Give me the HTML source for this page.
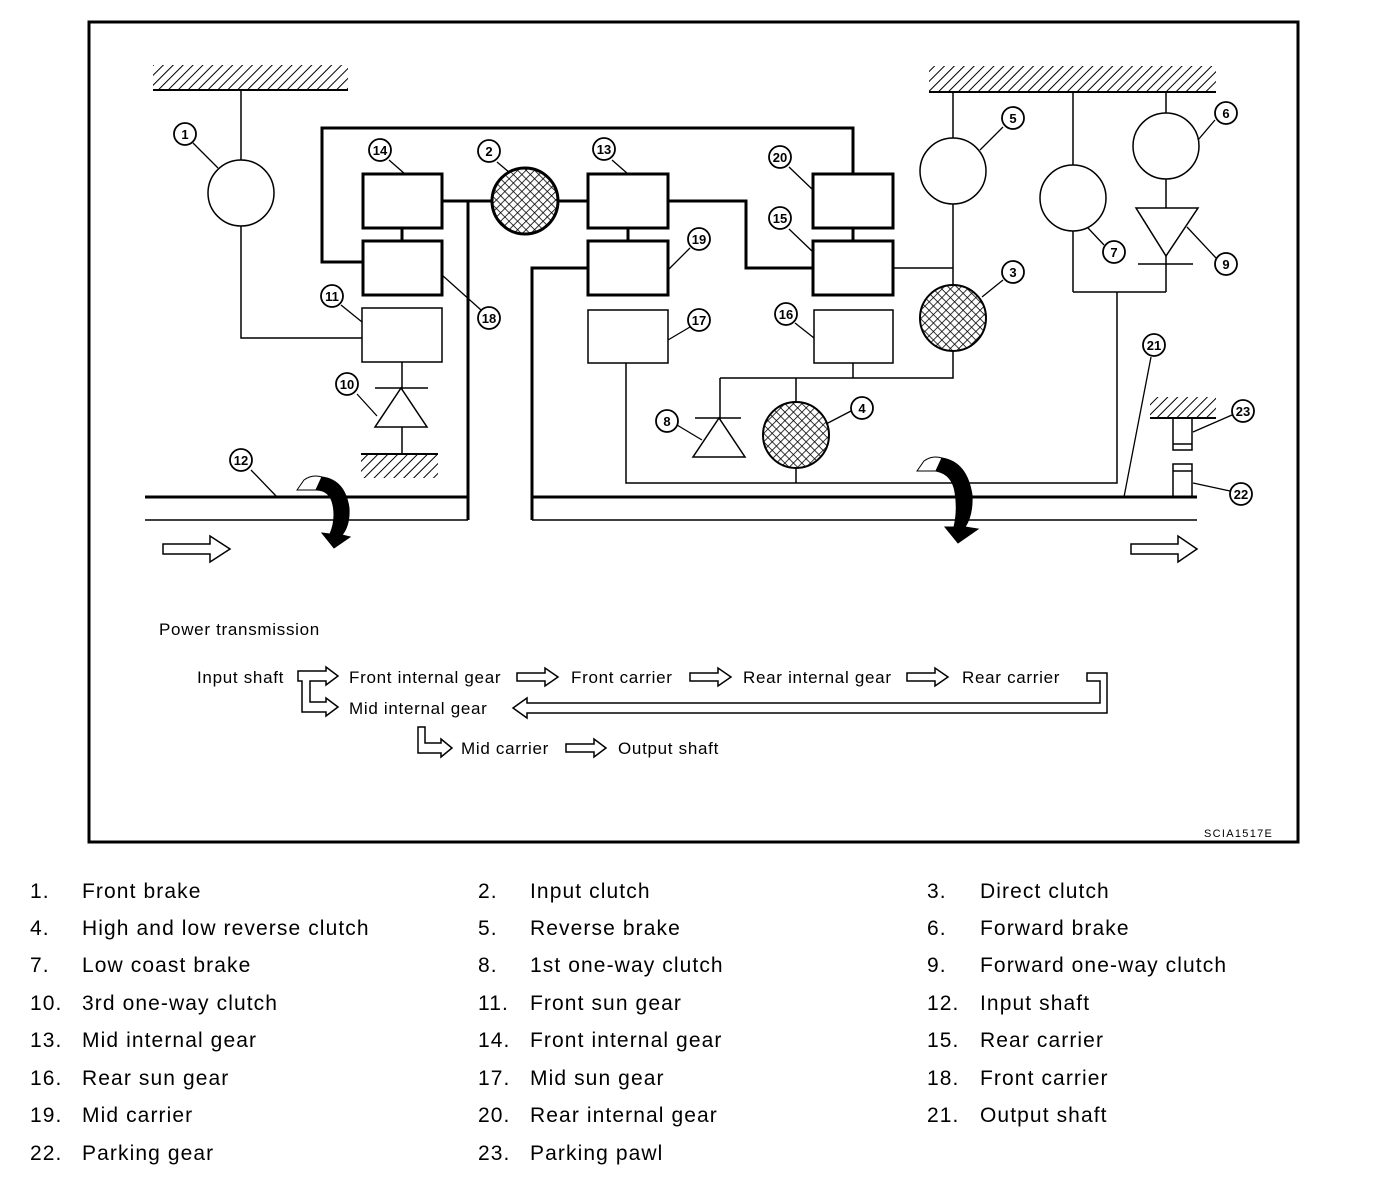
<!DOCTYPE html>
<html><head><meta charset="utf-8"><style>
body{margin:0;background:#fff;}
svg{display:block;}
text{font-family:"Liberation Sans",sans-serif;}
.lg{font-size:21px;fill:#000;letter-spacing:1.1px;}
.pt{font-size:17px;letter-spacing:0.7px;}
.n{font-size:13px;font-weight:bold;text-anchor:middle;}
</style></head><body>
<svg width="1376" height="1180" viewBox="0 0 1376 1180" xmlns="http://www.w3.org/2000/svg">
<defs>
<pattern id="h" width="7" height="7" patternUnits="userSpaceOnUse" patternTransform="rotate(45)"><rect width="7" height="7" fill="#fff"/><line x1="0" y1="0" x2="0" y2="7" stroke="#000" stroke-width="2"/></pattern>
<pattern id="x" width="6" height="6" patternUnits="userSpaceOnUse" patternTransform="rotate(45)"><rect width="6" height="6" fill="#fff"/><path d="M0 0V6M0 0H6" stroke="#000" stroke-width="1.6"/></pattern>
</defs>
<rect x="89" y="22" width="1209" height="820" fill="none" stroke="#000" stroke-width="3"/>
<rect x="153" y="65" width="195" height="24" fill="url(#h)"/><line x1="153" y1="90" x2="348" y2="90" stroke="#000" stroke-width="2"/>
<rect x="929" y="66" width="287" height="25" fill="url(#h)"/><line x1="929" y1="92" x2="1216" y2="92" stroke="#000" stroke-width="2"/>
<rect x="361" y="454" width="77" height="24" fill="url(#h)"/><line x1="361" y1="454" x2="438" y2="454" stroke="#000" stroke-width="2"/>
<rect x="1150" y="397" width="66" height="21" fill="url(#h)"/><line x1="1150" y1="418" x2="1216" y2="418" stroke="#000" stroke-width="2"/>
<g fill="none" stroke="#000">
<g stroke-width="1.5">
<path d="M241 90V160M241 226V338H362"/>
<path d="M402 362V453M375 388H428"/>
<polygon points="401,388 375,427 427,427" fill="#fff"/>
<path d="M893 268H953M953 92V138M953 204V285M953 351V378H720M853 363V378M796 378V402M796 468V483M720 378V457M695 418H741"/>
<polygon points="719,418 693,457 745,457" fill="#fff"/>
<path d="M626 363V483H1117V292M1073 292H1166M1073 92V165M1073 231V292M1166 92V113M1166 179V292M1138 264H1193"/>
<polygon points="1136,208 1198,208 1166,256" fill="#fff"/>
<path d="M145 520H468M532 520H1197"/>
<rect x="1173" y="418" width="19" height="32"/><path d="M1173 444H1192"/>
<rect x="1173" y="464" width="19" height="33"/><path d="M1173 471H1192"/>
<rect x="362" y="308" width="80" height="54"/>
<rect x="588" y="310" width="80" height="53"/>
<rect x="814" y="310" width="79" height="53"/>
</g>
<g stroke-width="3">
<path d="M363 262H322V128H853V174"/>
<rect x="363" y="174" width="79" height="54"/><rect x="363" y="241" width="79" height="54"/><path d="M402 228V241"/>
<path d="M442 201H492M468 201V520M145 497H468"/>
<path d="M558 201H588"/>
<rect x="588" y="174" width="80" height="54"/><rect x="588" y="241" width="80" height="54"/><path d="M628 228V241"/>
<path d="M668 201H746V268H813"/>
<rect x="813" y="174" width="80" height="54"/><rect x="813" y="241" width="80" height="54"/><path d="M853 228V241"/>
<path d="M588 268H532V520M532 497H1197"/>
</g>
<g stroke-width="1.5" fill="#fff">
<circle cx="241" cy="193" r="33"/><circle cx="953" cy="171" r="33"/><circle cx="1073" cy="198" r="33"/><circle cx="1166" cy="146" r="33"/>
</g>
<g stroke-width="3" fill="url(#x)"><circle cx="525" cy="201" r="33"/></g>
<g stroke-width="2" fill="url(#x)"><circle cx="953" cy="318" r="33"/><circle cx="796" cy="435" r="33"/></g>
<g stroke-width="1.3">
<path d="M193 143L218 168M389 160L405 174M497 162L510 173M612 160L628 174M789 167L813 190M789 229L813 252M690 248L668 270M690 327L668 340M795 323L814 338M481 310L442 275M341 305L362 322M357 394L377 416M251 470L277 497M677 425L702 440M851 411L826 424M1003 127L980 150M1215 120L1198 140M1104 245L1088 228M1216 258L1187 227M1003 280L982 297M1151 357L1124 497M1232 415L1193 432M1230 491L1193 483"/>
</g>
<g stroke-width="1.5" fill="#fff">
<path d="M163 544H210V536L230 549L210 562V554H163Z"/>
<path d="M1131 544H1178V536L1197 549L1178 562V554H1131Z"/>
</g>
<g stroke="#000" stroke-width="1">
<path d="M297 490L304 480Q312 474 322 477L316 490Z" fill="#fff"/>
<path d="M322 477Q345 480 349 508Q350 525 342 535L350 537L334 548L322 533L330 534Q336 520 333 505Q330 490 316 490Z" fill="#000"/>
<path d="M917 471L924 461Q932 455 942 458L936 471Z" fill="#fff"/>
<path d="M942 458Q967 462 972 495Q973 515 965 527L978 529L958 543L945 527L954 527Q958 510 955 492Q952 474 936 471Z" fill="#000"/>
</g>
<g stroke-width="1.5" fill="#fff">
<path d="M298 671H326V667L338 676L326 685V681H310V702H326V698L338 707L326 716V712H302V681H298Z"/>
<path d="M517 673H545V668L558 677L545 686V681H517Z"/>
<path d="M690 673H718V668L731 677L718 686V681H690Z"/>
<path d="M907 673H935V668L948 677L935 686V681H907Z"/>
<path d="M1087 673H1107V713H527V718L513 708L527 698V703H1100V681H1087Z"/>
<path d="M418 727H425V743H441V739L452 748L441 757V753H418Z"/>
<path d="M566 744H594V739L606 748L594 757V752H566Z"/>
</g>
</g>
<g fill="#fff" stroke="#000" stroke-width="1.8">
<circle cx="185" cy="134" r="11"/><circle cx="380" cy="150" r="11"/><circle cx="489" cy="151" r="11"/><circle cx="604" cy="149" r="11"/><circle cx="780" cy="157" r="11"/><circle cx="780" cy="218" r="11"/><circle cx="699" cy="239" r="11"/><circle cx="699" cy="320" r="11"/><circle cx="786" cy="314" r="11"/><circle cx="489" cy="318" r="11"/><circle cx="332" cy="296" r="11"/><circle cx="347" cy="384" r="11"/><circle cx="241" cy="460" r="11"/><circle cx="667" cy="421" r="11"/><circle cx="862" cy="408" r="11"/><circle cx="1013" cy="118" r="11"/><circle cx="1226" cy="113" r="11"/><circle cx="1114" cy="252" r="11"/><circle cx="1226" cy="264" r="11"/><circle cx="1013" cy="272" r="11"/><circle cx="1154" cy="345" r="11"/><circle cx="1243" cy="411" r="11"/><circle cx="1241" cy="494" r="11"/>
</g>
<g class="n">
<text x="185" y="139">1</text><text x="380" y="155">14</text><text x="489" y="156">2</text><text x="604" y="154">13</text><text x="780" y="162">20</text><text x="780" y="223">15</text><text x="699" y="244">19</text><text x="699" y="325">17</text><text x="786" y="319">16</text><text x="489" y="323">18</text><text x="332" y="301">11</text><text x="347" y="389">10</text><text x="241" y="465">12</text><text x="667" y="426">8</text><text x="862" y="413">4</text><text x="1013" y="123">5</text><text x="1226" y="118">6</text><text x="1114" y="257">7</text><text x="1226" y="269">9</text><text x="1013" y="277">3</text><text x="1154" y="350">21</text><text x="1243" y="416">23</text><text x="1241" y="499">22</text>
</g>
<g class="pt">
<text x="159" y="635">Power transmission</text>
<text x="197" y="683">Input shaft</text>
<text x="349" y="683">Front internal gear</text>
<text x="571" y="683">Front carrier</text>
<text x="743" y="683">Rear internal gear</text>
<text x="962" y="683">Rear carrier</text>
<text x="349" y="714">Mid internal gear</text>
<text x="461" y="754">Mid carrier</text>
<text x="618" y="754">Output shaft</text>
</g>
<text x="1204" y="837" style="font-size:11px;letter-spacing:1.3px">SCIA1517E</text>
<g class="lg">
<text x="30" y="898">1.</text><text x="82" y="898">Front brake</text>
<text x="478" y="898">2.</text><text x="530" y="898">Input clutch</text>
<text x="927" y="898">3.</text><text x="980" y="898">Direct clutch</text>
<text x="30" y="935">4.</text><text x="82" y="935">High and low reverse clutch</text>
<text x="478" y="935">5.</text><text x="530" y="935">Reverse brake</text>
<text x="927" y="935">6.</text><text x="980" y="935">Forward brake</text>
<text x="30" y="972">7.</text><text x="82" y="972">Low coast brake</text>
<text x="478" y="972">8.</text><text x="530" y="972">1st one-way clutch</text>
<text x="927" y="972">9.</text><text x="980" y="972">Forward one-way clutch</text>
<text x="30" y="1010">10.</text><text x="82" y="1010">3rd one-way clutch</text>
<text x="478" y="1010">11.</text><text x="530" y="1010">Front sun gear</text>
<text x="927" y="1010">12.</text><text x="980" y="1010">Input shaft</text>
<text x="30" y="1047">13.</text><text x="82" y="1047">Mid internal gear</text>
<text x="478" y="1047">14.</text><text x="530" y="1047">Front internal gear</text>
<text x="927" y="1047">15.</text><text x="980" y="1047">Rear carrier</text>
<text x="30" y="1085">16.</text><text x="82" y="1085">Rear sun gear</text>
<text x="478" y="1085">17.</text><text x="530" y="1085">Mid sun gear</text>
<text x="927" y="1085">18.</text><text x="980" y="1085">Front carrier</text>
<text x="30" y="1122">19.</text><text x="82" y="1122">Mid carrier</text>
<text x="478" y="1122">20.</text><text x="530" y="1122">Rear internal gear</text>
<text x="927" y="1122">21.</text><text x="980" y="1122">Output shaft</text>
<text x="30" y="1160">22.</text><text x="82" y="1160">Parking gear</text>
<text x="478" y="1160">23.</text><text x="530" y="1160">Parking pawl</text>
</g>
</svg>
</body></html>
